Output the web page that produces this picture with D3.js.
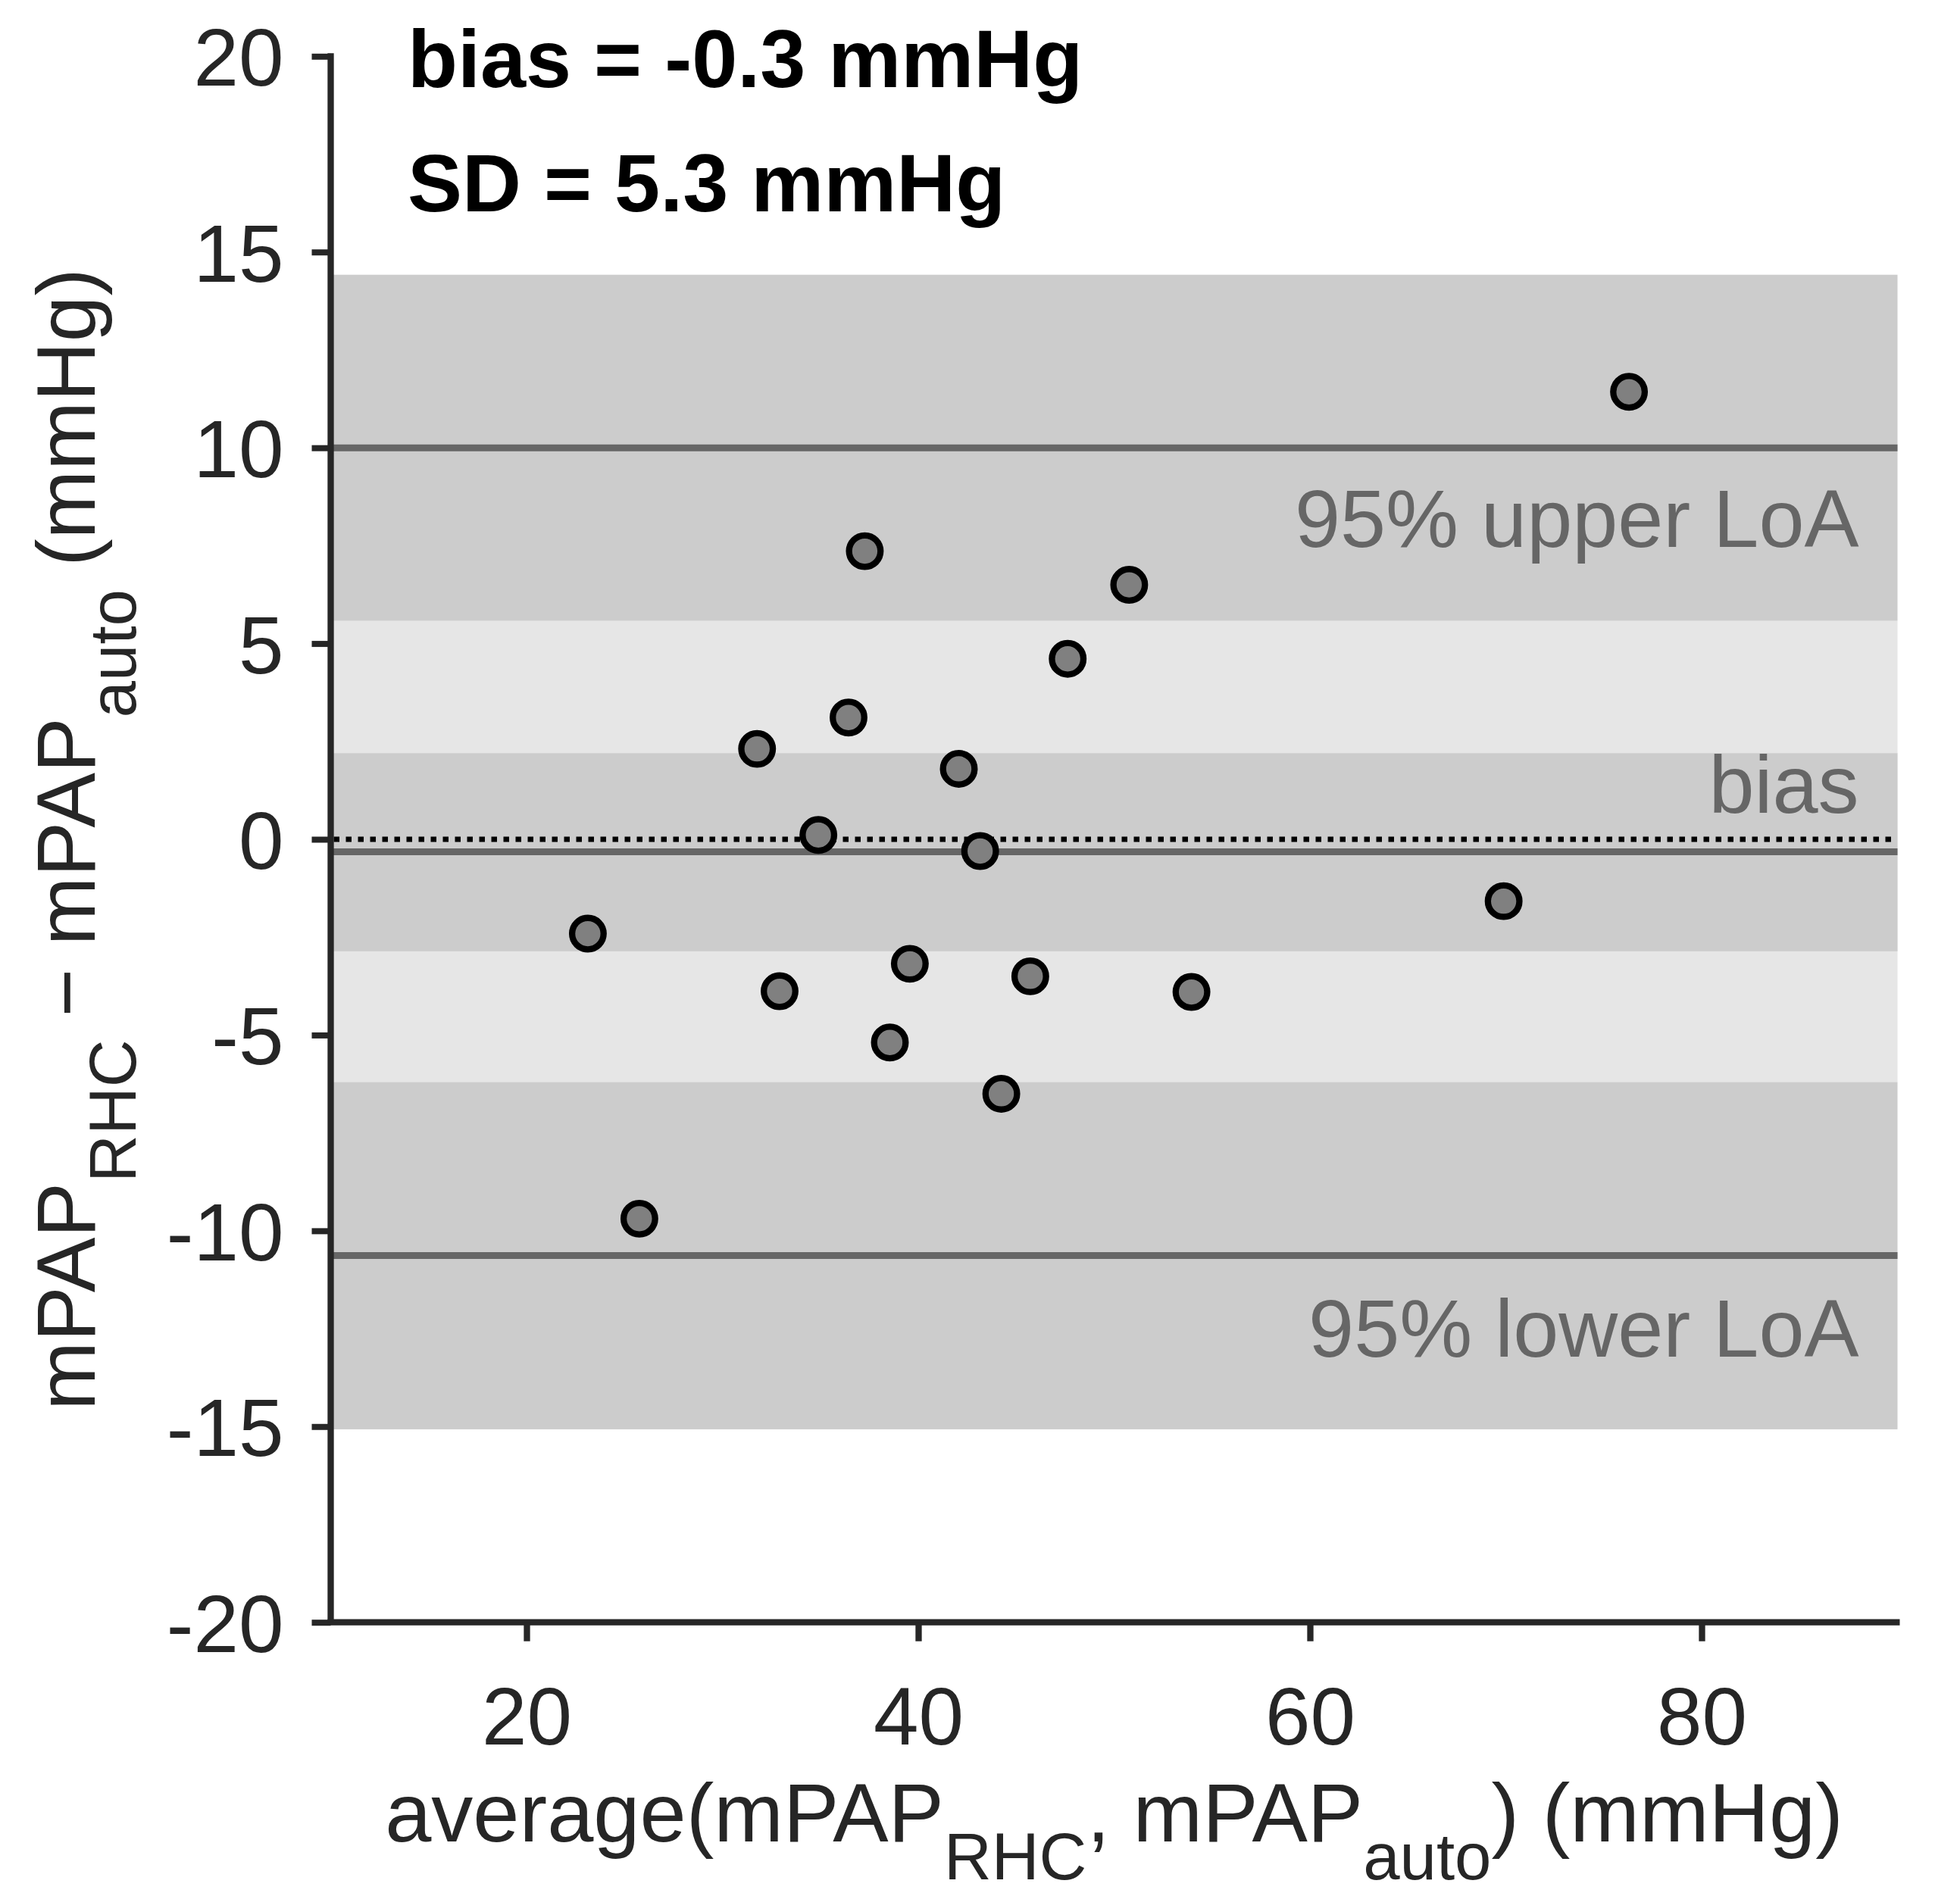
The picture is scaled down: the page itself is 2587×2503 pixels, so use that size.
<!DOCTYPE html>
<html>
<head>
<meta charset="utf-8">
<script src="https://cdn.jsdelivr.net/npm/d3@7"></script>
<style>
  html, body { margin: 0; padding: 0; background: #ffffff; }
  svg { display: block; }
  text { font-family: "Liberation Sans", Arial, Helvetica, sans-serif; }
</style>
</head>
<body>
<svg id="chart" width="2587" height="2503"></svg>
<script>
// ---- data ----
const avgValues  = [23.13, 25.76, 31.77, 32.92, 34.90, 36.44, 37.27, 38.55, 39.57,
                    42.07, 43.16, 44.24, 45.72, 47.63, 50.77, 53.95, 69.89, 76.29];
const diffValues = [-2.41, -9.69, 2.31, -3.88, 0.11, 3.11, 7.36, -5.19, -3.18,
                    1.80, -0.30, -6.50, -3.50, 4.61, 6.50, -3.90, -1.58, 11.43];
const biasValue = -0.32;
const upperLoA = 10.0;
const lowerLoA = -10.63;
const ciNames = ["upper", "bias", "lower"];
const ciLow  = [5.58, -2.86, -15.07];
const ciHigh = [14.42, 2.20, -6.20];
const lightBandLow = -6.20;
const lightBandHigh = 5.58;
const xTicks = [20, 40, 60, 80];
const yTicks = [-20, -15, -10, -5, 0, 5, 10, 15, 20];
const xDomain = [10, 90];
const yDomain = [-20, 20];
const statLines = ["bias = -0.3 mmHg", "SD = 5.3 mmHg"];
const lineLabels = ["95% upper LoA", "bias", "95% lower LoA"];

(function () {
// ---- layout ----
const svg = d3.select("#chart");
const pL = 436.5, pR = 2504.5, pT = 74.3, pB = 2141.7;
const x = d3.scaleLinear().domain(xDomain).range([pL, pR]);
const y = d3.scaleLinear().domain(yDomain).range([pB, pT]);
const axisColor = "#262626";
const tickFont = 107;

// light band
svg.append("rect")
  .attr("x", x(xDomain[0])).attr("width", x(xDomain[1]) - x(xDomain[0]))
  .attr("y", y(lightBandHigh)).attr("height", y(lightBandLow) - y(lightBandHigh))
  .attr("fill", "#e6e6e6");

// CI bands
svg.selectAll("rect.ci").data(ciNames).enter().append("rect")
  .attr("class", "ci")
  .attr("x", x(xDomain[0])).attr("width", x(xDomain[1]) - x(xDomain[0]))
  .attr("y", (d, i) => y(ciHigh[i]))
  .attr("height", (d, i) => y(ciLow[i]) - y(ciHigh[i]))
  .attr("fill", "#cccccc");

// LoA and bias lines
const lineVals = [upperLoA, biasValue, lowerLoA];
svg.selectAll("line.loa").data(lineVals).enter().append("line")
  .attr("class", "loa")
  .attr("x1", x(xDomain[0])).attr("x2", x(xDomain[1]))
  .attr("y1", d => y(d)).attr("y2", d => y(d))
  .attr("stroke", "#666666").attr("stroke-width", 9);

// zero dotted line
svg.append("line")
  .attr("x1", x(xDomain[0]) + 4).attr("x2", x(xDomain[1]))
  .attr("y1", y(0)).attr("y2", y(0))
  .attr("stroke", "#000000").attr("stroke-width", 7)
  .attr("stroke-dasharray", "7.5 8.5");

// line labels
const labelOffsets = [131, -52, 134];
svg.selectAll("text.lbl").data(lineLabels).enter().append("text")
  .attr("class", "lbl")
  .attr("x", x(xDomain[1]) - 51)
  .attr("y", (d, i) => y(lineVals[i]) + labelOffsets[i])
  .attr("text-anchor", "end")
  .attr("font-size", 108)
  .attr("fill", "#666666")
  .text(d => d);

// axes
const yAxis = d3.axisLeft(y).tickValues(yTicks).tickSize(25).tickSizeOuter(0)
  .tickFormat(d => String(d));
const gy = svg.append("g").attr("transform", `translate(${pL},0)`).call(yAxis);
gy.select(".domain").attr("stroke", axisColor).attr("stroke-width", 8.3)
  .attr("d", `M0,${pT - 4}V${pB}`);
gy.selectAll(".tick line").attr("stroke", axisColor).attr("stroke-width", 8);
gy.selectAll(".tick text")
  .attr("x", -62).attr("dy", "0.36em")
  .attr("font-size", tickFont).attr("fill", axisColor)
  .attr("font-family", "Liberation Sans, Arial, sans-serif");

const xAxis = d3.axisBottom(x).tickValues(xTicks).tickSize(25).tickSizeOuter(0);
const gx = svg.append("g").attr("transform", `translate(0,${pB})`).call(xAxis);
gx.select(".domain").attr("stroke", axisColor).attr("stroke-width", 8.3)
  .attr("d", `M${pL - 4},0H${pR + 3}`);
gx.selectAll(".tick line").attr("stroke", axisColor).attr("stroke-width", 8.3);
gx.selectAll(".tick text")
  .attr("y", 161).attr("dy", 0)
  .attr("font-size", tickFont).attr("fill", axisColor)
  .attr("font-family", "Liberation Sans, Arial, sans-serif");

// points
svg.selectAll("circle.pt").data(avgValues).enter().append("circle")
  .attr("class", "pt")
  .attr("cx", d => x(d))
  .attr("cy", (d, i) => y(diffValues[i]))
  .attr("r", 20.8)
  .attr("fill", "#808080")
  .attr("stroke", "#000000")
  .attr("stroke-width", 8.3);

// stat texts
svg.selectAll("text.stat").data(statLines).enter().append("text")
  .attr("class", "stat")
  .attr("x", 538)
  .attr("y", (d, i) => 115 + i * 164.3)
  .attr("font-size", 108)
  .attr("font-weight", "bold")
  .attr("fill", "#000000")
  .text(d => d);

// x title
const subF = 87, subDy = 50;
const xt = svg.append("text")
  .attr("x", (pL + pR) / 2).attr("y", 2431)
  .attr("text-anchor", "middle")
  .attr("font-size", 110).attr("fill", axisColor);
xt.append("tspan").text("average(mPAP");
xt.append("tspan").attr("font-size", subF).attr("dy", subDy).text("RHC");
xt.append("tspan").attr("dy", -subDy).text(", mPAP");
xt.append("tspan").attr("font-size", subF).attr("dy", subDy).text("auto");
xt.append("tspan").attr("dy", -subDy).text(") (mmHg)");

// y title
const yt = svg.append("text")
  .attr("transform", `translate(125,${(pT + pB) / 2}) rotate(-90)`)
  .attr("text-anchor", "middle")
  .attr("font-size", 109).attr("fill", axisColor);
yt.append("tspan").text("mPAP");
yt.append("tspan").attr("font-size", subF).attr("dy", 54).text("RHC");
yt.append("tspan").attr("dy", -54).text(" \u2212 mPAP");
yt.append("tspan").attr("font-size", subF).attr("dy", 54).text("auto");
yt.append("tspan").attr("dy", -54).text(" (mmHg)");
})();
</script>
</body>
</html>
